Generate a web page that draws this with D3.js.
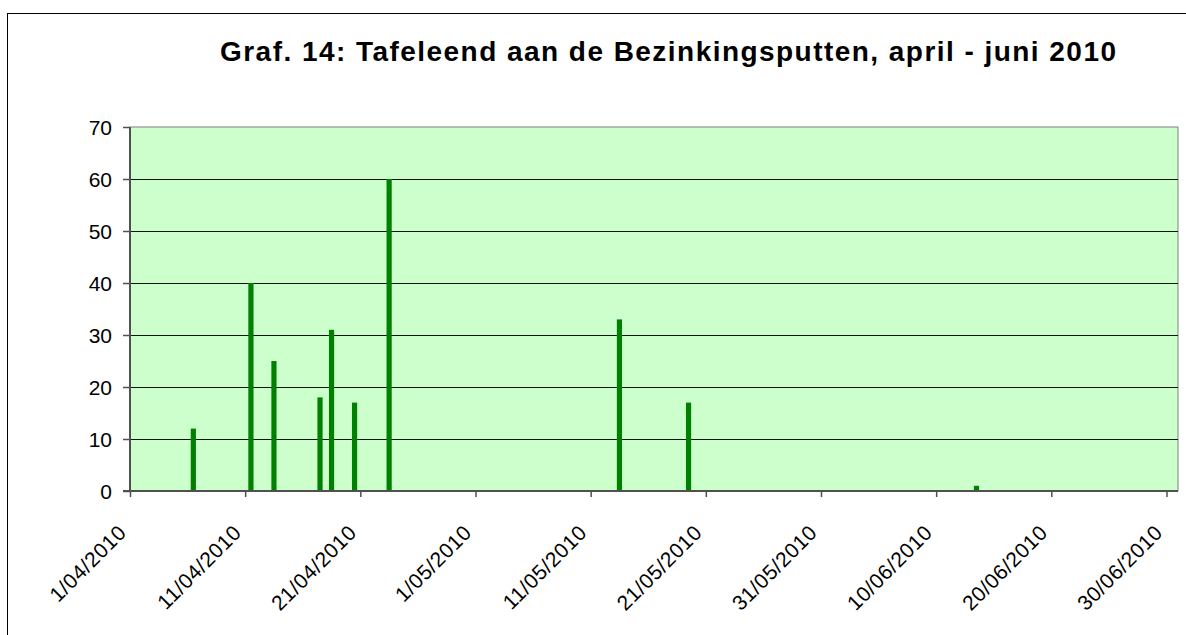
<!DOCTYPE html>
<html>
<head>
<meta charset="utf-8">
<script src="https://cdn.jsdelivr.net/npm/d3@7"></script>
<style>
    body { margin: 0; background: #fff; }
    svg text { font-family: "Liberation Sans", Arial, sans-serif; fill: #000; }
</style>
</head>
<body>
<div id="grafiek"></div>
<script>
// Gegevens: tellingen Tafeleend
const datums = ["2010-04-06", "2010-04-11", "2010-04-13", "2010-04-17", "2010-04-18",
    "2010-04-20", "2010-04-23", "2010-05-13", "2010-05-19", "2010-06-13"];
const aantallen = [12, 40, 25, 18, 31, 17, 60, 33, 17, 1];
const yTicks = [0, 10, 20, 30, 40, 50, 60, 70];
const xTickDatums = ["2010-04-01", "2010-04-11", "2010-04-21", "2010-05-01", "2010-05-11",
    "2010-05-21", "2010-05-31", "2010-06-10", "2010-06-20", "2010-06-30"];
const titel = "Graf. 14: Tafeleend aan de Bezinkingsputten, april - juni 2010";

const breedte = 1186, hoogte = 635;
const plot = { left: 130, right: 1178, top: 127, bottom: 491 };

const parse = d3.utcParse("%Y-%m-%d");
const fmt = d => `${d.getUTCDate()}/${String(d.getUTCMonth() + 1).padStart(2, "0")}/${d.getUTCFullYear()}`;

const svg = d3.select("#grafiek").append("svg")
    .attr("width", breedte)
    .attr("height", hoogte);

// kader rond de grafiek
svg.append("rect")
    .attr("x", 7.5).attr("y", 13.5)
    .attr("width", breedte + 10).attr("height", hoogte + 10)
    .attr("fill", "none").attr("stroke", "#000").attr("stroke-width", 1);

const x = d3.scaleUtc()
    .domain([parse("2010-04-01"), parse("2010-07-01")])
    .range([plot.left, plot.right]);

const y = d3.scaleLinear()
    .domain([0, 70])
    .range([plot.bottom, plot.top]);

const dag = x(parse("2010-04-02")) - x(parse("2010-04-01"));
const balkBreedte = dag * 0.45;

// plotgebied
svg.append("rect")
    .attr("x", plot.left).attr("y", plot.top)
    .attr("width", plot.right - plot.left).attr("height", plot.bottom - plot.top)
    .attr("fill", "#ccffcc").attr("stroke", "#808080");

// rasterlijnen
svg.append("g")
    .selectAll("line")
    .data(yTicks.filter(t => t > 0 && t < 70))
    .enter().append("line")
    .attr("x1", plot.left).attr("x2", plot.right)
    .attr("y1", d => Math.round(y(d)) + 0.5).attr("y2", d => Math.round(y(d)) + 0.5)
    .attr("stroke", "#111").attr("stroke-width", 1.2);

// balken
svg.append("g")
    .selectAll("rect")
    .data(datums.map((d, i) => ({ datum: parse(d), aantal: aantallen[i] })))
    .enter().append("rect")
    .attr("x", d => x(d.datum) + dag / 2 - balkBreedte / 2)
    .attr("y", d => y(d.aantal))
    .attr("width", balkBreedte)
    .attr("height", d => y(0) - y(d.aantal))
    .attr("fill", "#008000");

// y-as
const yAs = svg.append("g")
    .attr("transform", `translate(${plot.left},0)`)
    .call(d3.axisLeft(y).tickValues(yTicks).tickSize(7).tickPadding(11));
yAs.selectAll("text").style("font-size", "21px").attr("dy", "0.36em");
yAs.select(".domain").attr("stroke", "#505050").attr("stroke-width", 2).attr("d", `M0,${plot.top}V${plot.bottom}`);
yAs.selectAll("line").attr("stroke", "#505050").attr("stroke-width", 1.5);

// x-as
const xAs = svg.append("g")
    .attr("transform", `translate(0,${plot.bottom})`)
    .call(d3.axisBottom(x).tickValues(xTickDatums.map(parse)).tickSize(6).tickFormat(fmt));
xAs.select(".domain").attr("stroke", "#505050").attr("stroke-width", 2).attr("d", `M${plot.left - 7},0H${plot.right}`);
xAs.selectAll("line").attr("stroke", "#505050").attr("stroke-width", 1.5);
xAs.selectAll("text")
    .style("font-size", "21px")
    .style("letter-spacing", "0.5px")
    .style("text-anchor", "end")
    .attr("dy", "0")
    .attr("x", 0).attr("y", 0)
    .attr("transform", "translate(-3,43) rotate(-45)");

// titel
svg.append("text")
    .attr("x", 668).attr("y", 61)
    .attr("text-anchor", "middle")
    .attr("textLength", 896)
    .attr("lengthAdjust", "spacing")
    .style("font-size", "28px")
    .style("font-weight", "bold")
    .text(titel);
</script>
</body>
</html>
